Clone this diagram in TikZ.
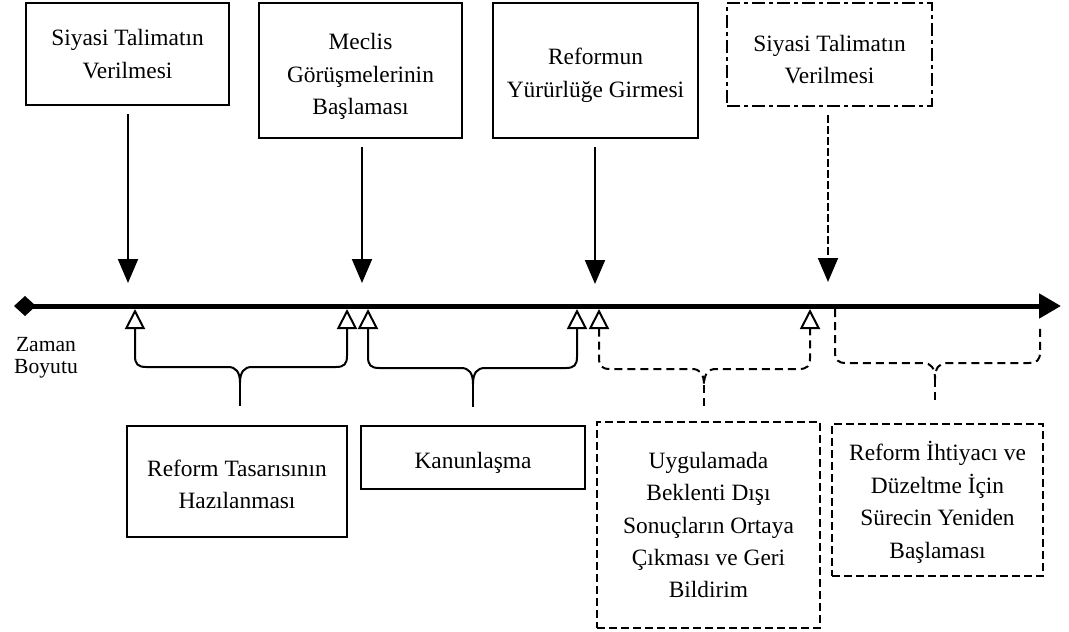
\documentclass[tikz,border=0pt]{standalone}
\usepackage{fontspec}
\setmainfont{Liberation Serif}
\usepackage{tikz}
\usetikzlibrary{arrows.meta}

\begin{document}
\begin{tikzpicture}[x=0.5pt,y=-0.5pt]
\tikzset{box/.style = {shape=rectangle,draw,line width=1.2pt,align=center,inner sep=0pt,
  font=\fontsize{11.7pt}{16.2pt}\selectfont}}
\tikzset{dashbox/.style = {box,line width=1.1pt,dash pattern=on 4pt off 2pt}}
\tikzset{dotbox/.style = {box,line width=1.2pt,dash pattern=on 6.5pt off 2pt on 2pt off 2pt}}
\tikzset{down/.style = {-{Triangle[width=10pt,length=12pt]},line width=1pt,shorten <=4pt}}
\tikzset{brace/.style = {{Triangle[open,width=10pt,length=10pt]}-{Triangle[open,width=10pt,length=10pt]},line width=1pt}}
\tikzset{dbrace/.style = {brace,dash pattern=on 4pt off 2.5pt}}
\useasboundingbox (0,0) rectangle (1069,631);
% events
\node[box,minimum width=101.5pt,minimum height=51pt] (ev1) at (127.5,54) {Siyasi Talimatın\\Verilmesi};
\node[box,minimum width=101.5pt,minimum height=67.5pt] (ev2) at (360.5,70.5) {\rule{0pt}{14pt}Meclis\\Görüşmelerinin\\Başlaması};
\node[box,minimum width=102.5pt,minimum height=67.5pt] (ev3) at (595.5,70.5) {\rule{0pt}{13pt}Reformun\\Yürürlüğe Girmesi};
\node[dotbox,minimum width=102.5pt,minimum height=51.5pt] (ev4) at (829.5,54.5) {\rule{0pt}{13pt}Siyasi Talimatın\\Verilmesi};
% phases
\node[box,line width=1pt,minimum width=110pt,minimum height=55.5pt] (ph1) at (237,481.5) {\rule{0pt}{11pt}Reform Tasarısının\\Hazılanması};
\node[box,line width=1pt,minimum width=112pt,minimum height=31.5pt] (ph2) at (473,457.5) {\rule{0pt}{13pt}Kanunlaşma};
\node[dashbox,minimum width=111.5pt,minimum height=103pt] (ph3) at (708.5,525) {Uygulamada\\Beklenti Dışı\\Sonuçların Ortaya\\Çıkması ve Geri\\Bildirim};
\node[dashbox,minimum width=105.5pt,minimum height=76pt] (ph4) at (937.5,500) {\rule{0pt}{12pt}Reform İhtiyacı ve\\Düzeltme İçin\\Sürecin Yeniden\\Başlaması};
\node[align=center,inner sep=0pt,font=\fontsize{10.8pt}{11pt}\selectfont] (zaman) at (46,358) {Zaman\\Boyutu};
% timeline
\coordinate (t0) at (14,306);
\coordinate (t9) at (1061,306);
\draw[line width=2.5pt,{Diamond[width=10pt,length=11pt]}-{Triangle[width=12pt,length=11pt]}] (t0) -- (t9);
\foreach \n/\x in {1/135,2/347,3/368,4/577,5/599,6/810,7/835}
  \coordinate (p\n) at (\x,309);
\coordinate (p8) at (1040,324);
% arrows
\draw[down] (ev1.south) ++(0.5,0) -- (128,283);
\draw[down] (ev2.south) ++(1.5,0) -- (362,283);
\draw[down] (ev3.south) ++(-0.5,0) -- (595,284);
\draw[down,dash pattern=on 4pt off 1.5pt] (ev4.south) ++(-1.5,0) -- (828,282);
% braces
\draw[brace] (p1) -- (135,356) .. controls (135,364) and (138,367) .. (146,367) -- (228,367)
  .. controls (236,367) and (240,372) .. (240,383) coordinate (k1)
  .. controls (240,372) and (244,367) .. (252,367) -- (336,367)
  .. controls (344,367) and (347,364) .. (347,356) -- (p2);
\draw[line width=1pt] (k1) -- (240,406) coordinate (s1);
\draw[brace] (p3) -- (368,357) .. controls (368,365) and (371,368) .. (379,368) -- (461,368)
  .. controls (469,368) and (473,373) .. (473,384) coordinate (k2)
  .. controls (473,373) and (477,368) .. (485,368) -- (566,368)
  .. controls (574,368) and (577,365) .. (577,357) -- (p4);
\draw[line width=1pt] (k2) -- (473,407) coordinate (s2);
\draw[dbrace] (p5) -- (599,358) .. controls (599,366) and (602,369) .. (610,369) -- (692,369)
  .. controls (700,369) and (704,374) .. (704,385) coordinate (k3)
  .. controls (704,374) and (708,369) .. (716,369) -- (799,369)
  .. controls (807,369) and (810,366) .. (810,358) -- (p6);
\draw[line width=1pt,dash pattern=on 4pt off 2.5pt] (k3) -- (704,408) coordinate (s3);
\draw[dbrace,-] (p7) -- (835,352) .. controls (835,360) and (838,363) .. (846,363) -- (923,363)
  .. controls (931,363) and (935,368) .. (935,379) coordinate (k4)
  .. controls (935,368) and (939,363) .. (947,363) -- (1029,363)
  .. controls (1037,363) and (1040,360) .. (1040,352) -- (p8);
\draw[line width=1pt,dash pattern=on 4pt off 2.5pt] (k4) -- (935,402) coordinate (s4);
\end{tikzpicture}
\end{document}
